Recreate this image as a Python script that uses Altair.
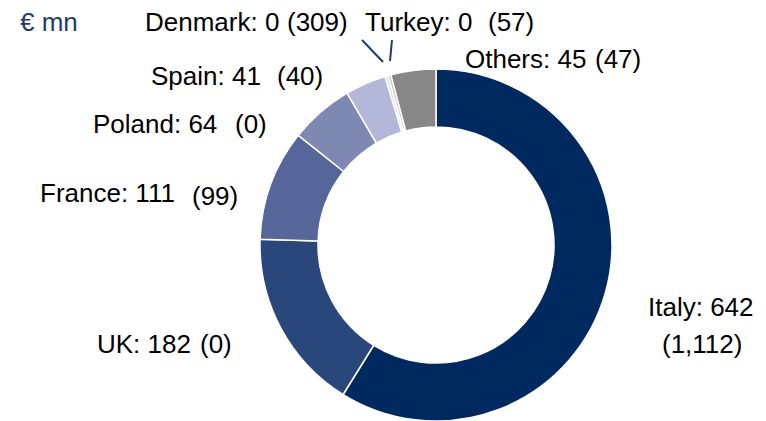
import altair as alt
import pandas as pd

# ---- data ----
regions = ["Italy", "UK", "France", "Poland", "Spain", "Denmark", "Turkey", "Others"]
current = [642, 182, 111, 64, 41, 0, 0, 45]          # label values
previous = [1112, 0, 99, 0, 40, 309, 57, 47]         # values in brackets
slice_size = [642, 182, 111, 64, 41, 3, 3, 45]       # drawn slice sizes (Denmark/Turkey tiny slivers)

# ---- styles ----
colors = ["#002A5F", "#2A477B", "#56659A", "#7D88B3", "#B4B8D8", "#D9DCEC", "#C4C4C4", "#878787"]
navy = "#1F3A6E"
TOP = 8  # top padding

# ---- label layout (page px: left x, baseline y) ----
main_pos = {
    "Italy": (648, 316), "UK": (97, 353), "France": (40, 202), "Poland": (93, 133),
    "Spain": (151, 85), "Denmark": (145, 31), "Turkey": (365, 31), "Others": (465, 68),
}
prev_pos = {
    "Italy": (662, 353), "UK": (200, 353), "France": (192, 205), "Poland": (235, 133),
    "Spain": (277, 85), "Denmark": (287, 31), "Turkey": (488, 31), "Others": (595, 68),
}
unit_pos = (20, 31)
leaders = [((362, 40), (383, 62)), ((392, 40), (390, 61))]
center = (436, 245)


def cx(x):
    return x - 8


def cy(y):
    return y - 8 - TOP


df = pd.DataFrame({"region": regions, "size": slice_size, "order": list(range(len(regions)))})

rows = [{"text": "€ mn", "x": cx(unit_pos[0]), "y": cy(unit_pos[1]), "color": navy}]
for r, c, p in zip(regions, current, previous):
    mx, my = main_pos[r]
    px, py = prev_pos[r]
    rows.append({"text": f"{r}: {c}", "x": cx(mx), "y": cy(my), "color": "#000000"})
    rows.append({"text": f"({p:,})", "x": cx(px), "y": cy(py), "color": "#000000"})
labels = pd.DataFrame(rows)

lines = pd.DataFrame([{"x": cx(a[0]), "y": cy(a[1]), "x2": cx(b[0]), "y2": cy(b[1])} for a, b in leaders])

arc = alt.Chart(df).mark_arc(innerRadius=118, outerRadius=176, stroke="white", strokeWidth=1.5).encode(
    theta=alt.Theta("size:Q", stack=True),
    order=alt.Order("order:Q"),
    color=alt.Color("region:N", scale=alt.Scale(domain=regions, range=colors), legend=None),
    x=alt.value(cx(center[0])),
    y=alt.value(cy(center[1])),
)

text = alt.Chart(labels).mark_text(
    align="left", baseline="alphabetic", font="Liberation Sans", fontSize=26
).encode(
    x=alt.X("x:Q", scale=None),
    y=alt.Y("y:Q", scale=None),
    text="text:N",
    color=alt.Color("color:N", scale=None),
)

rules = alt.Chart(lines).mark_rule(color=navy, strokeWidth=2).encode(
    x=alt.X("x:Q", scale=None),
    y=alt.Y("y:Q", scale=None),
    x2="x2:Q",
    y2="y2:Q",
)

chart = alt.layer(arc, rules, text).properties(
    width=750, height=405,
    padding={"left": 0, "top": TOP, "right": 0, "bottom": 0},
    autosize="none",
).configure_view(strokeWidth=0)

chart.save("out.html", embed_options={"renderer": "svg", "actions": False})
